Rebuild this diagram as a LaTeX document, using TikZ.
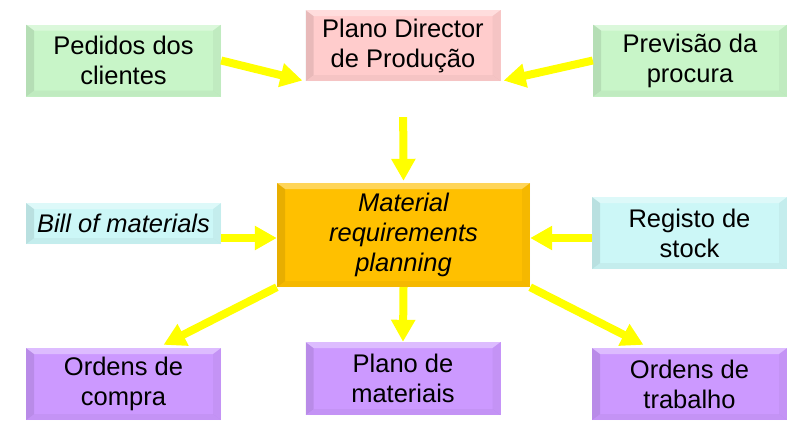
\documentclass[tikz,border=0pt]{standalone}
\usepackage{fontspec}
\setmainfont{Liberation Sans}
\usetikzlibrary{arrows.meta}
\definecolor{greenbox}{RGB}{200,245,200}
\definecolor{pinkbox}{RGB}{255,204,204}
\definecolor{cyanbox}{RGB}{204,247,247}
\definecolor{mrpgold}{RGB}{255,192,0}
\definecolor{violetbox}{RGB}{204,153,255}
\definecolor{arrowyellow}{RGB}{255,255,0}
\newcommand{\boxfont}{\fontsize{25.5}{30}\selectfont}

\begin{document}
\begin{tikzpicture}[x=1pt,y=-1pt,
  box/.style={minimum width=195pt,minimum height=72pt,inner sep=0pt,align=center,font=\boxfont,
    path picture={
      \path (path picture bounding box.north west) coordinate (p1) (path picture bounding box.north east) coordinate (p2)
        (path picture bounding box.south east) coordinate (p3) (path picture bounding box.south west) coordinate (p4);
      \fill[white,opacity=.35] (p1) -- (p2) -- ([shift={(-8pt,-6pt)}]p2) -- ([shift={(8pt,-6pt)}]p1) -- cycle;
      \fill[black,opacity=.09] (p1) -- ([shift={(8pt,-6pt)}]p1) -- ([shift={(8pt,6pt)}]p4) -- (p4) -- cycle;
      \fill[black,opacity=.04] (p2) -- ([shift={(-8pt,-6pt)}]p2) -- ([shift={(-8pt,6pt)}]p3) -- (p3) -- cycle;
      \fill[black,opacity=.04] (p4) -- ([shift={(8pt,6pt)}]p4) -- ([shift={(-8pt,6pt)}]p3) -- (p3) -- cycle;
    }},
  arr/.style={draw=arrowyellow,line width=8pt,-{Triangle[width=23pt,length=22pt]}}]
\useasboundingbox (0,0) rectangle (787,421);
\node[box,fill=greenbox] (ped) at (123.5,60.5) {Pedidos dos\\clientes};
\node[box,fill=pinkbox,minimum height=71pt] (pdp) at (403,45.5) {Plano Director\\de Produção};
\node[box,fill=greenbox,minimum width=194pt] (prev) at (690,60.5) {Previsão da\\procura};
\node[box,fill=mrpgold,minimum width=253pt,minimum height=104pt,font=\boxfont\itshape] (mrp) at (403.5,235) {Material\\requirements\\planning};
\node[box,fill=cyanbox,minimum height=41pt,font=\boxfont\itshape] (bom) at (123.5,223.5) {Bill of materials};
\node[box,fill=cyanbox] (stock) at (689.5,233) {Registo de\\stock};
\node[box,fill=violetbox] (compra) at (123.5,384) {Ordens de\\compra};
\node[box,fill=violetbox,minimum height=73pt] (planomat) at (403,378.5) {Plano de\\materiais};
\node[box,fill=violetbox] (trabalho) at (689.5,384) {Ordens de\\trabalho};
\path ([yshift=-3pt]mrp.west) coordinate (mrpw) ([yshift=-3pt]mrp.east) coordinate (mrpe);
\draw[arr,shorten >=3pt] (ped.east) -- (pdp.south west);
\draw[arr,shorten >=3pt] (prev.west) -- (pdp.south east);
\draw[arr,shorten <=36pt,shorten >=2pt] (pdp.south) -- (mrp.north);
\draw[arr] (bom.east |- mrpw) -- (mrpw);
\draw[arr] (stock.west |- mrpe) -- (mrpe);
\draw[arr] (mrp.south west) -- ([xshift=40pt,yshift=3pt]compra.north);
\draw[arr] (mrp.south) -- (planomat.north);
\draw[arr] (mrp.south east) -- ([xshift=-46pt,yshift=3pt]trabalho.north);
\end{tikzpicture}
\end{document}
